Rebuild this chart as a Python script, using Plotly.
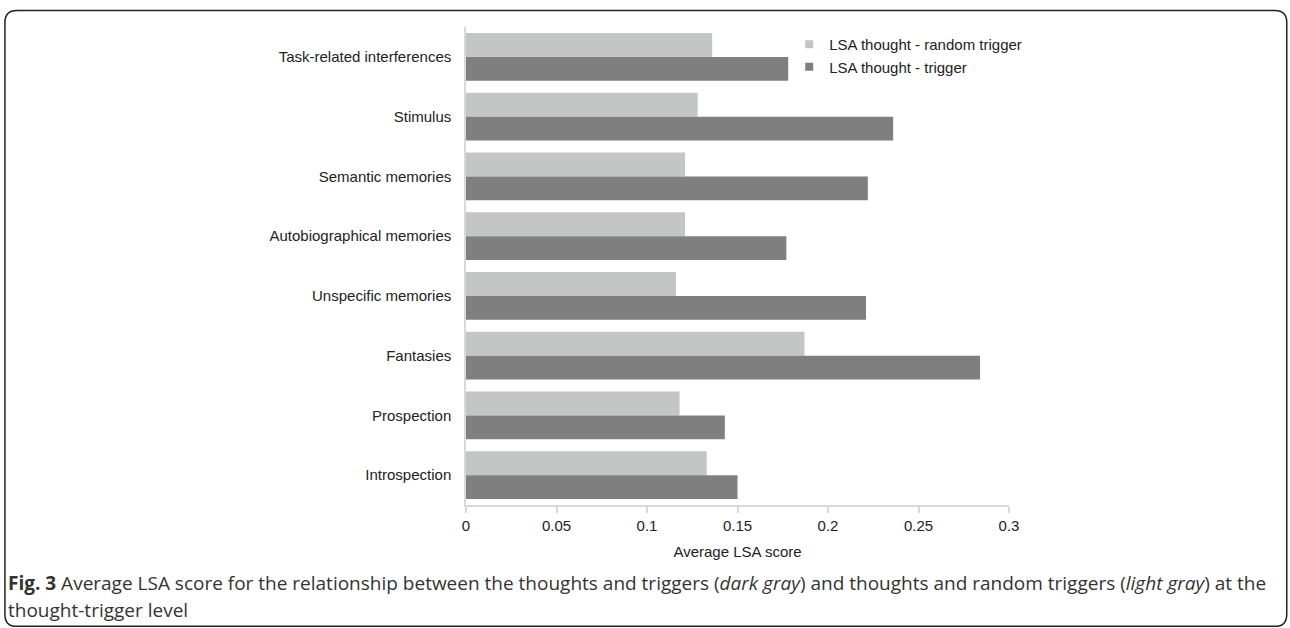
import plotly.graph_objects as go

categories = ["Task-related interferences", "Stimulus", "Semantic memories",
              "Autobiographical memories", "Unspecific memories", "Fantasies",
              "Prospection", "Introspection"]
random_trigger = [0.136, 0.128, 0.121, 0.121, 0.116, 0.187, 0.118, 0.133]
trigger = [0.178, 0.236, 0.222, 0.177, 0.221, 0.284, 0.143, 0.150]
series_names = ["LSA thought - random trigger", "LSA thought - trigger"]
x_ticks = [0, 0.05, 0.1, 0.15, 0.2, 0.25, 0.3]
x_tick_labels = ["0", "0.05", "0.1", "0.15", "0.2", "0.25", "0.3"]

LIGHT, DARK = "#c4c6c5", "#7f7f7f"

W, H = 1290, 628
L, R, T, B = 465.5, 281, 27, 122.5
PW, PH = W - L - R, H - T - B


def px(x):
    return (x - L) / PW


def py(y):
    return (H - B - y) / PH


fig = go.Figure()
for vals, name, col in [(random_trigger, series_names[0], LIGHT),
                        (trigger, series_names[1], DARK)]:
    fig.add_trace(go.Bar(y=categories, x=vals, orientation="h", name=name,
                         showlegend=False,
                         marker=dict(color=col, line=dict(width=0))))
# legend entries with small square swatches
for name, col in [(series_names[0], LIGHT), (series_names[1], DARK)]:
    fig.add_trace(go.Scatter(x=[None], y=[None], mode="markers", name=name,
                             marker=dict(symbol="square", size=8, color=col),
                             showlegend=True, hoverinfo="skip"))

# rounded border
x0, x1, y0, y1, r = 4, 1287, 10.5, 627, 12
path = (f"M {px(x0 + r)},{py(y0)} L {px(x1 - r)},{py(y0)} "
        f"Q {px(x1)},{py(y0)} {px(x1)},{py(y0 + r)} "
        f"L {px(x1)},{py(y1 - r)} Q {px(x1)},{py(y1)} {px(x1 - r)},{py(y1)} "
        f"L {px(x0 + r)},{py(y1)} Q {px(x0)},{py(y1)} {px(x0)},{py(y1 - r)} "
        f"L {px(x0)},{py(y0 + r)} Q {px(x0)},{py(y0)} {px(x0 + r)},{py(y0)} Z")

cap_font = dict(family="Open Sans, sans-serif", size=19, color="#333")

fig.update_layout(
    width=W, height=H,
    margin=dict(l=L, r=R, t=T, b=B),
    paper_bgcolor="white", plot_bgcolor="white",
    barmode="group", bargap=0.2, bargroupgap=0,
    font=dict(family="Liberation Sans, Arial, sans-serif", size=15, color="#222"),
    showlegend=True,
    legend=dict(x=px(789), y=py(28), xanchor="left", yanchor="top",
                font=dict(size=15), bgcolor="rgba(0,0,0,0)",
                tracegroupgap=0, itemwidth=30),
    xaxis=dict(range=[0, 0.3], tickvals=x_ticks, ticktext=x_tick_labels,
               showgrid=False, zeroline=False, showline=True,
               linecolor="#d9d9d9", linewidth=1.5,
               ticks="outside", ticklen=6, tickcolor="#d9d9d9", tickwidth=1.5,
               tickfont=dict(size=15),
               title=dict(text="Average LSA score", standoff=14,
                          font=dict(size=15))),
    yaxis=dict(autorange="reversed", showgrid=False, zeroline=False,
               showline=True, linecolor="#d9d9d9", linewidth=1.5,
               ticks="", ticklabelstandoff=10, tickfont=dict(size=15)),
    shapes=[dict(type="path", xref="paper", yref="paper", path=path,
                 line=dict(color="#222", width=1.5))],
    annotations=[
        dict(xref="paper", yref="paper", x=px(5), y=py(583.5),
             xanchor="left", yanchor="middle", showarrow=False, align="left",
             text="<b>Fig. 3</b> Average LSA score for the relationship between the thoughts and triggers "
                  "(<i>dark gray</i>) and thoughts and random triggers (<i>light gray</i>) at the",
             font=cap_font),
        dict(xref="paper", yref="paper", x=px(5), y=py(610.5),
             xanchor="left", yanchor="middle", showarrow=False, align="left",
             text="thought-trigger level", font=cap_font),
    ],
)

fig.write_html("out.html", config={"displayModeBar": False},
               post_script="document.body.style.margin='0';")
